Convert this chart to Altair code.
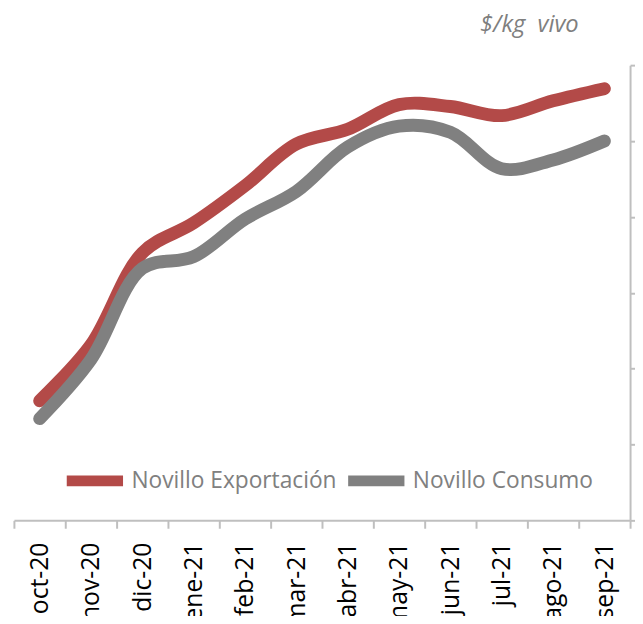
import altair as alt
import pandas as pd

months = ["oct-20", "nov-20", "dic-20", "ene-21", "feb-21", "mar-21",
          "abr-21", "may-21", "jun-21", "jul-21", "ago-21", "sep-21"]
exportacion = [131.5, 146.3, 170.5, 178.4, 188.2, 199.2, 203.1, 209.6, 209.1, 206.7, 210.6, 213.8]
consumo = [126.8, 142.4, 166.4, 169.5, 179.4, 186.7, 198.4, 203.9, 202.3, 192.7, 195.0, 200.0]
series = ["Novillo Exportación", "Novillo Consumo"]
colors = ["#B34A48", "#808080"]
y_ticks = [100, 120, 140, 160, 180, 200, 220]

df = pd.DataFrame({
    "mes": months * 2,
    "serie": [series[0]] * len(months) + [series[1]] * len(months),
    "valor": exportacion + consumo,
})

axis_gray = "#BFBFBF"

x = alt.X(
    "mes:N", sort=months, bandPosition=0.5,
    scale=alt.Scale(type="band", paddingInner=0, paddingOuter=0),
    axis=alt.Axis(title=None, labelAngle=270, labelFontSize=25, labelFont="Open Sans",
                  labelColor="#000000", tickBand="extent", tickSize=8, tickWidth=2,
                  tickColor=axis_gray, domainColor=axis_gray, domainWidth=2,
                  labelPadding=14, grid=False),
)
y = alt.Y(
    "valor:Q",
    scale=alt.Scale(domain=[100, 220], nice=False, zero=False),
    axis=alt.Axis(orient="right", title=None, labels=False, values=y_ticks, tickSize=6,
                  tickWidth=2, tickColor=axis_gray, domainColor=axis_gray, domainWidth=2,
                  grid=False),
)
color = alt.Color(
    "serie:N",
    scale=alt.Scale(domain=series, range=colors),
    legend=alt.Legend(title=None, orient="none", legendX=48, legendY=387,
                      direction="horizontal", symbolType="stroke", symbolSize=3249,
                      symbolStrokeWidth=11, labelFontSize=23, labelFont="Open Sans",
                      labelColor="#808080", labelOffset=3, columnPadding=-11, padding=0,
                      labelLimit=500),
)

base = alt.Chart(df).mark_line(strokeWidth=13, strokeCap="round",
                               interpolate="catmull-rom").encode(x=x, y=y, color=color)

chart = alt.layer(
    base.transform_filter(alt.datum.serie == series[0]),
    base.transform_filter(alt.datum.serie == series[1]),
).properties(
    width=624, height=461,
    autosize=alt.AutoSizeParams(type="none"),
    padding={"left": 6, "top": 54, "right": 5, "bottom": 93},
    title=alt.TitleParams("$/kg\u00a0\u00a0vivo", anchor="end", fontStyle="italic",
                          font="Open Sans", fontSize=24, color="#7F7F7F",
                          fontWeight="normal", dx=-59, offset=26),
).configure_view(stroke=None)

chart.save("out.html", embed_options={"renderer": "svg", "actions": False})
